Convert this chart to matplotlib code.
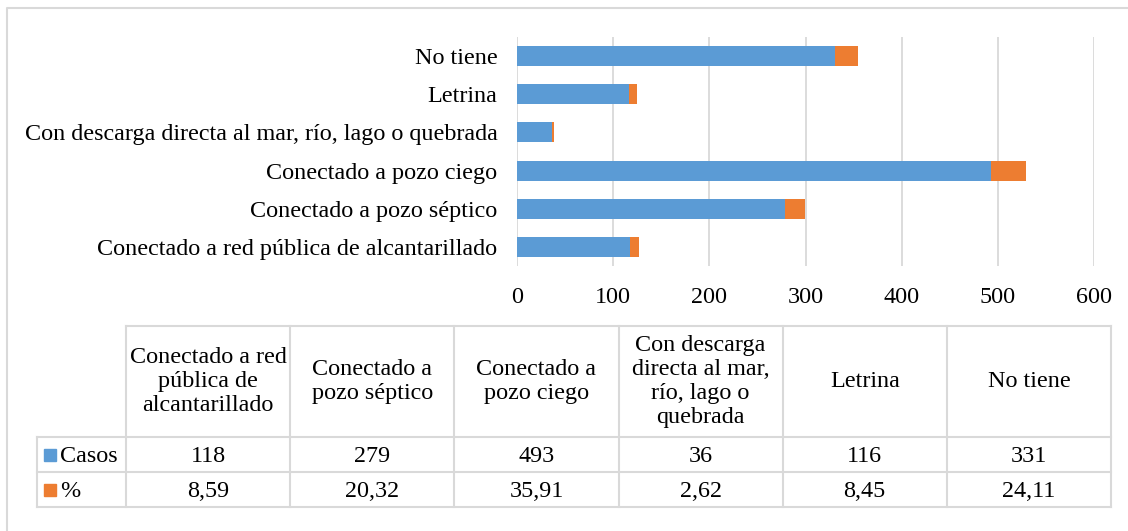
import matplotlib.pyplot as plt
from matplotlib.patches import Rectangle

plt.rcParams['font.family'] = ['Liberation Serif', 'DejaVu Serif']

# datos
categorias = ["Conectado a red pública de alcantarillado", "Conectado a pozo séptico",
              "Conectado a pozo ciego", "Con descarga directa al mar, río, lago o quebrada",
              "Letrina", "No tiene"]
cabeceras = ["Conectado a red\npública de\nalcantarillado", "Conectado a\npozo séptico",
             "Conectado a\npozo ciego", "Con descarga\ndirecta al mar,\nrío, lago o\nquebrada",
             "Letrina", "No tiene"]
casos = [118, 279, 493, 36, 116, 331]
porcentaje = [8.59, 20.32, 35.91, 2.62, 8.45, 24.11]
series = ["Casos", "%"]
xticks = [0, 100, 200, 300, 400, 500, 600]

azul = '#5B9BD5'
naranja = '#ED7D31'
gris = '#D9D9D9'
fs = 17.4

W, H = 1128, 531
fig = plt.figure(figsize=(W / 100, H / 100), dpi=100)

# fondo / borde exterior y tabla en coordenadas de pixel
bg = fig.add_axes([0, 0, 1, 1])
bg.set_xlim(0, W)
bg.set_ylim(H, 0)
bg.axis('off')
bg.plot([7, 7, W + 5], [H + 5, 8, 8], color=gris, lw=1.5, clip_on=False)

# grafico de barras
x0, x1, y0, y1 = 517, 1094, 37, 266
ax = fig.add_axes([x0 / W, 1 - y1 / H, (x1 - x0) / W, (y1 - y0) / H])
pos = range(len(categorias))
ax.barh(pos, casos, height=0.52, color=azul, zorder=3)
ax.barh(pos, porcentaje, left=casos, height=0.52, color=naranja, zorder=3)
ax.set_xlim(0, 600)
ax.set_ylim(-0.5, len(categorias) - 0.5)
ax.set_xticks(xticks)
ax.set_yticks(list(pos))
ax.set_yticklabels(categorias)
ax.tick_params(length=0, labelsize=fs)
ax.tick_params(axis='x', pad=15)
ax.tick_params(axis='y', pad=14)
ax.grid(axis='x', color=gris, lw=1.3, zorder=0)
for s in ax.spines.values():
    s.set_visible(False)

# tabla de datos
tl, tr = 37, 1111
c0 = 126
ty, ty1, ty2, ty3 = 326, 437, 472, 507
n = len(cabeceras)
cw = (tr - c0) / n
cols = [c0 + i * cw for i in range(n + 1)]
lc = dict(color=gris, lw=1.5)
bg.plot([c0, tr], [ty, ty], **lc)
for yy in (ty1, ty2, ty3):
    bg.plot([tl, tr], [yy, yy], **lc)
bg.plot([tl, tl], [ty1, ty3], **lc)
for xx in cols:
    bg.plot([xx, xx], [ty, ty3], **lc)

for i in range(n):
    cx = (cols[i] + cols[i + 1]) / 2
    bg.text(cx, (ty + ty1) / 2, cabeceras[i], ha='center', va='center',
            fontsize=fs, linespacing=1.2)
    bg.text(cx, (ty1 + ty2) / 2 + 2, str(casos[i]), ha='center', va='center', fontsize=fs)
    bg.text(cx, (ty2 + ty3) / 2 + 2, f"{porcentaje[i]:.2f}".replace('.', ','),
            ha='center', va='center', fontsize=fs)

for yy, nombre, col in ((ty1, series[0], azul), (ty2, series[1], naranja)):
    ym = (yy + (ty2 - ty1) / 2)
    bg.add_patch(Rectangle((44, ym - 6), 12, 12, color=col))
    bg.text(60, ym + 2, nombre, ha='left', va='center', fontsize=fs)

fig.savefig('out.png', dpi=100)
